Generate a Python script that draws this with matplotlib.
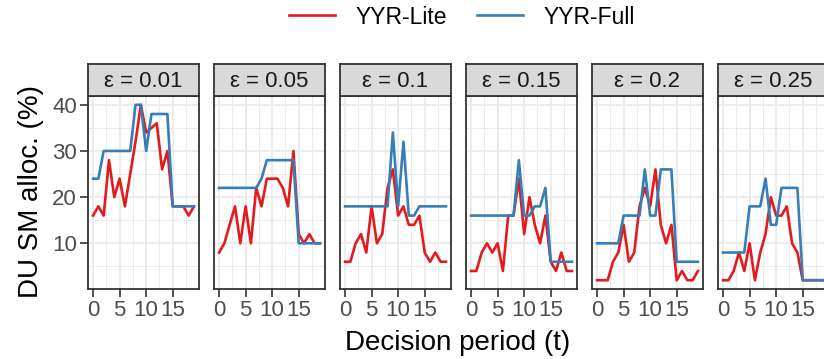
"""Share of DU SM allocation per decision period, YYR-Lite vs YYR-Full, one panel per epsilon"""

import matplotlib
matplotlib.use('Agg')
import matplotlib.pyplot as plt
from matplotlib.lines import Line2D

plt.rcParams['font.family'] = ['Liberation Sans', 'DejaVu Sans']

periods = list(range(20))
epsilons = ['0.01', '0.05', '0.1', '0.15', '0.2', '0.25']

lite = [
    [16, 18, 16, 28, 20, 24, 18, 25, 32, 40, 34, 35, 36, 26, 30, 18, 18, 18, 16, 18],
    [8, 10, 14, 18, 10, 18, 10, 22, 18, 24, 24, 24, 22, 18, 30, 12, 10, 12, 10, 10],
    [6, 6, 10, 12, 8, 18, 10, 12, 22, 26, 16, 18, 14, 14, 16, 8, 6, 8, 6, 6],
    [4, 4, 8, 10, 8, 10, 4, 16, 16, 24, 12, 20, 14, 10, 16, 6, 4, 8, 4, 4],
    [2, 2, 2, 6, 8, 14, 6, 8, 18, 22, 18, 26, 14, 10, 14, 2, 4, 2, 2, 4],
    [2, 2, 4, 8, 4, 10, 2, 8, 12, 20, 16, 16, 18, 10, 8, 2, 2, 2, 2, 2],
]
full = [
    [24, 24, 30, 30, 30, 30, 30, 30, 40, 40, 30, 38, 38, 38, 38, 18, 18, 18, 18, 18],
    [22, 22, 22, 22, 22, 22, 22, 22, 24, 28, 28, 28, 28, 28, 28, 10, 10, 10, 10, 10],
    [18, 18, 18, 18, 18, 18, 18, 18, 18, 34, 18, 32, 16, 16, 18, 18, 18, 18, 18, 18],
    [16, 16, 16, 16, 16, 16, 16, 16, 16, 28, 16, 16, 18, 18, 22, 6, 6, 6, 6, 6],
    [10, 10, 10, 10, 10, 16, 16, 16, 16, 26, 16, 16, 26, 26, 26, 6, 6, 6, 6, 6],
    [8, 8, 8, 8, 8, 18, 18, 18, 24, 14, 14, 22, 22, 22, 22, 2, 2, 2, 2, 2],
]

RED = '#E41A1C'
BLUE = '#377EB8'
BORDER = '#333333'
GRID = '#EBEBEB'
TICK_TEXT = '#4D4D4D'
LW = 1.9


def style_panel(ax, first):
    ax.set_xlim(-0.95, 19.95)
    ax.set_ylim(0.1, 41.9)
    ax.set_xticks([0, 5, 10, 15])
    ax.set_xticks([2.5, 7.5, 12.5, 17.5], minor=True)
    ax.set_yticks([10, 20, 30, 40])
    ax.set_yticks([5, 15, 25, 35], minor=True)
    ax.grid(which='major', color=GRID, linewidth=1.3)
    ax.grid(which='minor', color=GRID, linewidth=0.7)
    ax.set_axisbelow(True)
    for spine in ax.spines.values():
        spine.set_color(BORDER)
        spine.set_linewidth(1.3)
    ax.tick_params(which='major', length=5.5, width=1.2, color=BORDER,
                   labelsize=16, labelcolor=TICK_TEXT, pad=2.5)
    ax.tick_params(which='minor', length=0)
    if not first:
        ax.tick_params(axis='y', left=False, labelleft=False)


def main():
    fig = plt.figure(figsize=(8.24, 3.59), dpi=100)
    W, H = 824, 359

    for i, eps in enumerate(epsilons):
        left = 88 + 126 * i
        ax = fig.add_axes([left / W, (H - 289) / H, 111 / W, 193 / H])
        ax.plot(periods, lite[i], color=RED, linewidth=LW)
        ax.plot(periods, full[i], color=BLUE, linewidth=LW)
        style_panel(ax, i == 0)

        # facet strip on top of each panel
        strip = fig.add_axes([left / W, (H - 96) / H, 111 / W, 32 / H])
        strip.set_facecolor('#D9D9D9')
        strip.set_xticks([])
        strip.set_yticks([])
        for spine in strip.spines.values():
            spine.set_color(BORDER)
            spine.set_linewidth(1.3)
        strip.text(0.5, 0.45, f'ε = {eps}', ha='center', va='center',
                   fontsize=16, color='#1A1A1A', transform=strip.transAxes)

    fig.text(458 / W, (H - 343) / H, 'Decision period (t)', ha='center', va='center',
             fontsize=20)
    fig.text(31 / W, (H - 192) / H, 'DU SM alloc. (%)', ha='center', va='center',
             rotation=90, fontsize=20)

    handles = [Line2D([], [], color=RED, linewidth=LW),
               Line2D([], [], color=BLUE, linewidth=LW)]
    fig.legend(handles, ['YYR-Lite', 'YYR-Full'], loc='center',
               bbox_to_anchor=(462 / W, (H - 17) / H), ncol=2, frameon=False,
               fontsize=16.5, handlelength=2.0, handletextpad=0.9, columnspacing=1.3)

    fig.savefig('out.png', dpi=100)


if __name__ == '__main__':
    main()
